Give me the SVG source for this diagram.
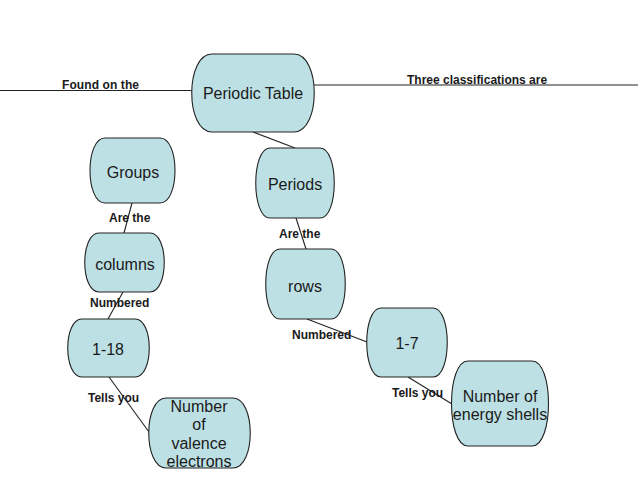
<svg xmlns="http://www.w3.org/2000/svg" width="638" height="479" viewBox="0 0 638 479">
<style>
.node path{fill:#bde0e4;stroke:#222;stroke-width:1.1}
.node text{font-family:"Liberation Sans",Arial,sans-serif;font-size:16px;fill:#1a1a1a;text-anchor:middle}
.lbl{font-family:"Liberation Sans",Arial,sans-serif;font-size:12px;font-weight:bold;fill:#1a1a1a}
#connectors line{stroke:#222;stroke-width:1.1}
</style>
<rect width="638" height="479" fill="#ffffff"/>
<g id="connectors">
<line x1="0" y1="90.5" x2="192" y2="90.5"/>
<line x1="313" y1="85" x2="638" y2="85"/>
<line x1="253" y1="132" x2="295" y2="148"/>
<line x1="132" y1="203" x2="124" y2="233"/>
<line x1="123" y1="292" x2="108" y2="319"/>
<line x1="109" y1="377" x2="149" y2="432"/>
<line x1="296" y1="218" x2="306" y2="249"/>
<line x1="307" y1="319" x2="367" y2="342"/>
<line x1="408" y1="377" x2="452" y2="404"/>
</g>
<g id="labels">
<text class="lbl" x="62" y="89" textLength="77">Found on the</text>
<text class="lbl" x="407" y="84">Three classifications are</text>
<text class="lbl" x="109" y="222">Are the</text>
<text class="lbl" x="90" y="307">Numbered</text>
<text class="lbl" x="88" y="402">Tells you</text>
<text class="lbl" x="279" y="238">Are the</text>
<text class="lbl" x="292" y="339">Numbered</text>
<text class="lbl" x="392" y="397">Tells you</text>
</g>
<g id="n-periodic-table" class="node">
<path d="M212 54 H294 C321 54 321 132 294 132 H212 C185 132 185 54 212 54 Z"/>
<text x="253" y="99">Periodic Table</text>
</g>
<g id="n-groups" class="node">
<path d="M105 138 H160 C180 138 180 203 160 203 H105 C85 203 85 138 105 138 Z"/>
<text x="133" y="178">Groups</text>
</g>
<g id="n-columns" class="node">
<path d="M99 233 H150 C169 233 169 292 150 292 H99 C80 292 80 233 99 233 Z"/>
<text x="125" y="270">columns</text>
</g>
<g id="n-1-18" class="node">
<path d="M82 319 H135 C154 319 154 377 135 377 H82 C63 377 63 319 82 319 Z"/>
<text x="108" y="355">1-18</text>
</g>
<g id="n-valence" class="node">
<path d="M166 398 H233 C256 398 256 468 233 468 H166 C143 468 143 398 166 398 Z"/>
<text x="199" y="412">Number</text>
<text x="199" y="430">of</text>
<text x="199" y="449">valence</text>
<text x="199" y="467">electrons</text>
</g>
<g id="n-periods" class="node">
<path d="M270 148 H320 C339 148 339 218 320 218 H270 C251 218 251 148 270 148 Z"/>
<text x="295" y="190">Periods</text>
</g>
<g id="n-rows" class="node">
<path d="M280 249 H331 C350 249 350 319 331 319 H280 C261 319 261 249 280 249 Z"/>
<text x="305" y="292">rows</text>
</g>
<g id="n-1-7" class="node">
<path d="M381 308 H433 C452 308 452 377 433 377 H381 C362 377 362 308 381 308 Z"/>
<text x="407" y="349">1-7</text>
</g>
<g id="n-energy" class="node">
<path d="M468 361 H532 C554 361 554 446 532 446 H468 C446 446 446 361 468 361 Z"/>
<text x="500" y="402">Number of</text>
<text x="500" y="420">energy shells</text>
</g>
</svg>
